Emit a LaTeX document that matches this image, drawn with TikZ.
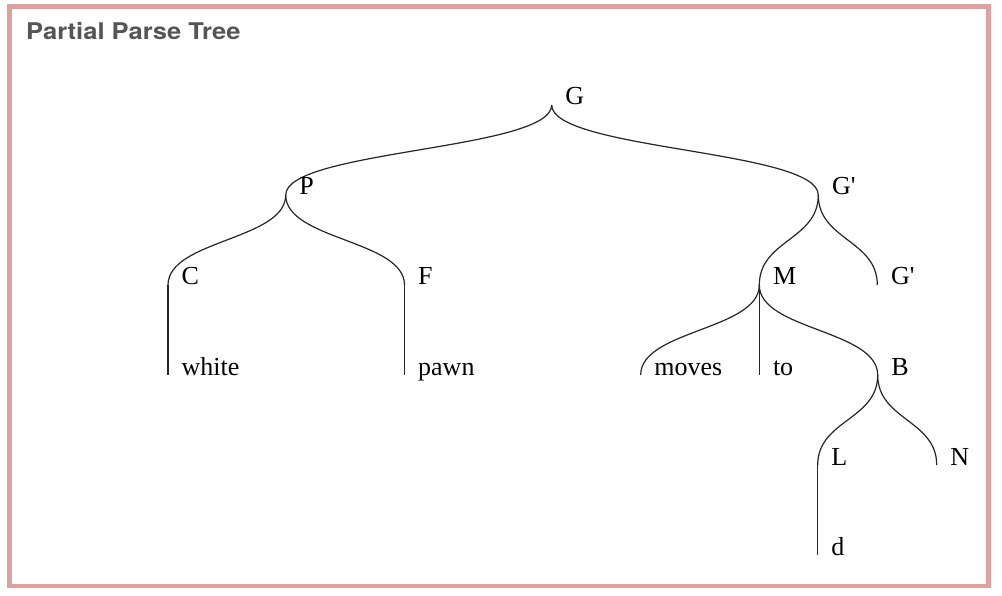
\documentclass[tikz,border=0pt]{standalone}
\usepackage{fontspec}
\newfontfamily\labelfont{Liberation Serif}
\newfontfamily\titlefont{TeX Gyre Heros}
\usepackage{graphicx}
\usetikzlibrary{calc}
\definecolor{framepink}{RGB}{224,160,160}
\definecolor{titlegray}{RGB}{85,85,85}
\newcommand\tlink[2]{\draw[edgeline] let \p1=(#1), \p2=(#2) in (\p1) .. controls (\x1,{0.5*\y1+0.5*\y2}) and (\x2,{0.5*\y1+0.5*\y2}) .. (\p2);}
\begin{document}
\begin{tikzpicture}[x=1pt,y=-1pt,
  lbl/.style={anchor=base west, inner sep=0pt, font=\labelfont\fontsize{26}{31}\selectfont, xshift=13.5pt},
  edgeline/.style={line width=1.2pt, black!85}]
\useasboundingbox (0,0) rectangle (1002,596);
\fill[white] (0,0) rectangle (1002,596);
\draw[framepink, line width=4.6pt] (9.7,6.5) rectangle (988.5,586);
\node[anchor=base west, inner sep=0pt, text=titlegray, font=\titlefont\bfseries\fontsize{23}{28}\selectfont] (title) at (26,40) {\scalebox{1.11}[1]{Partial Parse Tree}};
% node points
\coordinate (nG) at (551.7,105);
\coordinate (nP) at (285.7,195);
\coordinate (nGp) at (818.3,195);
\coordinate (nC) at (168,285);
\coordinate (nF) at (404.5,285);
\coordinate (nM) at (759.3,285);
\coordinate (nGpp) at (877.3,285);
\coordinate (nWhite) at (168,375);
\coordinate (nPawn) at (404.5,375);
\coordinate (nMoves) at (640.7,375);
\coordinate (nTo) at (759.3,375);
\coordinate (nB) at (877.7,375);
\coordinate (nL) at (817.7,465);
\coordinate (nN) at (936.7,465);
\coordinate (nD) at (817.7,555);
% links
\tlink{nG}{nP}
\tlink{nG}{nGp}
\tlink{nP}{nC}
\tlink{nP}{nF}
\tlink{nC}{nWhite}
\tlink{nF}{nPawn}
\tlink{nGp}{nM}
\tlink{nGp}{nGpp}
\tlink{nM}{nMoves}
\tlink{nM}{nTo}
\tlink{nM}{nB}
\tlink{nB}{nL}
\tlink{nB}{nN}
\tlink{nL}{nD}
% labels
\node[lbl] (tG) at (nG) {G};
\node[lbl] (tP) at (nP) {P};
\node[lbl] (tGp) at (nGp) {G\textquotesingle};
\node[lbl] (tC) at (nC) {C};
\node[lbl] (tF) at (nF) {F};
\node[lbl] (tM) at (nM) {M};
\node[lbl] (tGpp) at (nGpp) {G\textquotesingle};
\node[lbl] (tWhite) at (nWhite) {white};
\node[lbl] (tPawn) at (nPawn) {pawn};
\node[lbl] (tMoves) at (nMoves) {moves};
\node[lbl] (tTo) at (nTo) {to};
\node[lbl] (tB) at (nB) {B};
\node[lbl] (tL) at (nL) {L};
\node[lbl] (tN) at (nN) {N};
\node[lbl] (tD) at (nD) {d};
\end{tikzpicture}
\end{document}
